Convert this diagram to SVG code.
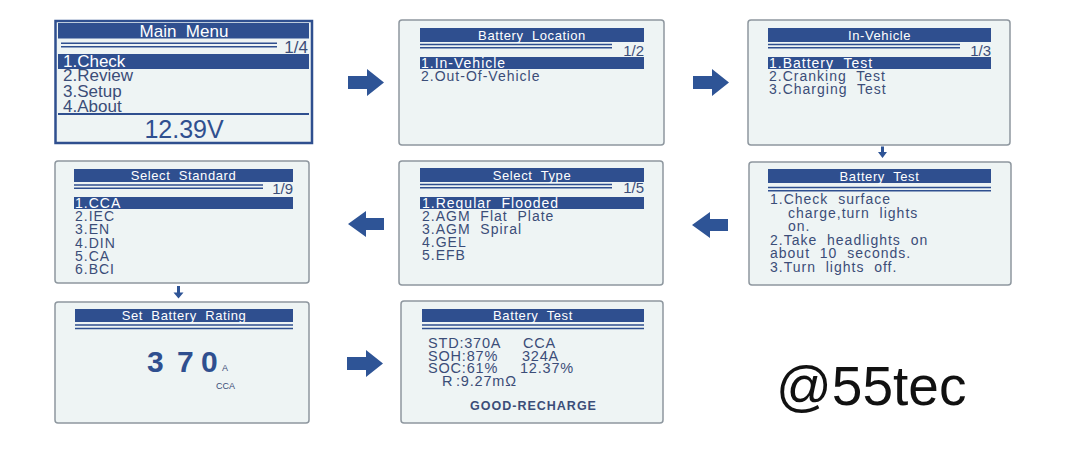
<svg xmlns="http://www.w3.org/2000/svg" width="1079" height="449" viewBox="0 0 1079 449">
<style>
text{font-family:"Liberation Sans",Arial,sans-serif;white-space:pre}
.scr{fill:#eef4f4;stroke:#8e979f;stroke-width:1.5}
.bar{fill:#2f4f8f}
.dl{stroke:#2f4f8f;stroke-width:1.4}
.tt{fill:#ffffff;font-size:13px;letter-spacing:0.6px;text-anchor:middle}
.it{fill:#3b4d78;font-size:14px;letter-spacing:1px}
.hi{fill:#ffffff}
.pg{fill:#3b4d78;font-size:15px;text-anchor:end}
.arr{fill:#2e5496}
</style>
<rect width="1079" height="449" fill="#ffffff"/>

<g id="main-menu">
<rect x="55.5" y="21" width="256.5" height="122" fill="#eef4f4" stroke="#2f4f8f" stroke-width="2.5"/>
<rect class="bar" x="58" y="23" width="251" height="15.5"/>
<text x="184" y="37" fill="#ffffff" font-size="17" text-anchor="middle">Main  Menu</text>
<line class="dl" x1="61" y1="43.3" x2="277" y2="43.3"/>
<line class="dl" x1="61" y1="46.8" x2="277" y2="46.8"/>
<text x="308" y="52.5" fill="#3b4d78" font-size="17" text-anchor="end">1/4</text>
<rect class="bar" x="58" y="54" width="251" height="15"/>
<text x="63" y="66.7" fill="#ffffff" font-size="17">1.Check</text>
<text x="63" y="80.7" fill="#3b4d78" font-size="17">2.Review</text>
<text x="63" y="96.5" fill="#3b4d78" font-size="17">3.Setup</text>
<text x="63" y="111.7" fill="#3b4d78" font-size="17">4.About</text>
<line x1="58" y1="114" x2="309" y2="114" stroke="#2f4f8f" stroke-width="2"/>
<text x="184" y="138" fill="#2f4f8f" font-size="25" text-anchor="middle">12.39V</text>
</g>

<g id="battery-location">
<rect class="scr" x="399" y="20" width="265" height="125" rx="3"/>
<rect class="bar" x="420" y="28" width="224" height="14"/>
<text class="tt" x="532" y="40">Battery  Location</text>
<line class="dl" x1="420" y1="44.5" x2="612" y2="44.5"/>
<line class="dl" x1="420" y1="47.7" x2="612" y2="47.7"/>
<text class="pg" x="644" y="56">1/2</text>
<rect class="bar" x="420" y="57" width="224" height="12"/>
<text class="it hi" x="421" y="67.5">1.In-Vehicle</text>
<text class="it" x="421" y="80.5">2.Out-Of-Vehicle</text>
</g>

<g id="in-vehicle">
<rect class="scr" x="748" y="20" width="262" height="125" rx="3"/>
<rect class="bar" x="768" y="28" width="223" height="14"/>
<text class="tt" x="879.5" y="40">In-Vehicle</text>
<line class="dl" x1="768" y1="44.5" x2="960" y2="44.5"/>
<line class="dl" x1="768" y1="47.7" x2="960" y2="47.7"/>
<text class="pg" x="991" y="56">1/3</text>
<rect class="bar" x="768" y="57" width="223" height="12"/>
<text class="it hi" x="769" y="67.5">1.Battery  Test</text>
<text class="it" x="769" y="80.5">2.Cranking  Test</text>
<text class="it" x="769" y="93.5">3.Charging  Test</text>
</g>

<g id="select-standard">
<rect class="scr" x="55" y="161" width="254" height="122" rx="3"/>
<rect class="bar" x="74" y="169" width="219" height="13"/>
<text class="tt" x="183.5" y="180">Select  Standard</text>
<line class="dl" x1="74" y1="185" x2="263" y2="185"/>
<line class="dl" x1="74" y1="188.3" x2="263" y2="188.3"/>
<text class="pg" x="293" y="194">1/9</text>
<rect class="bar" x="74" y="197" width="219" height="12"/>
<text class="it hi" x="75" y="208">1.CCA</text>
<text class="it" x="75" y="221">2.IEC</text>
<text class="it" x="75" y="234">3.EN</text>
<text class="it" x="75" y="247.5">4.DIN</text>
<text class="it" x="75" y="261">5.CA</text>
<text class="it" x="75" y="274">6.BCI</text>
</g>

<g id="select-type">
<rect class="scr" x="399" y="161" width="264" height="124" rx="3"/>
<rect class="bar" x="420" y="168" width="224" height="14"/>
<text class="tt" x="532" y="180">Select  Type</text>
<line class="dl" x1="420" y1="184.5" x2="612" y2="184.5"/>
<line class="dl" x1="420" y1="187.7" x2="612" y2="187.7"/>
<text class="pg" x="644" y="193">1/5</text>
<rect class="bar" x="420" y="197" width="224" height="12"/>
<text class="it hi" x="422" y="208">1.Regular  Flooded</text>
<text class="it" x="422" y="221">2.AGM  Flat  Plate</text>
<text class="it" x="422" y="234">3.AGM  Spiral</text>
<text class="it" x="422" y="247">4.GEL</text>
<text class="it" x="422" y="260">5.EFB</text>
</g>

<g id="battery-test-steps">
<rect class="scr" x="749" y="162" width="262" height="123" rx="3"/>
<rect class="bar" x="768" y="169" width="223" height="14"/>
<text class="tt" x="879.5" y="181">Battery  Test</text>
<line class="dl" x1="768" y1="187.5" x2="991" y2="187.5"/>
<line class="dl" x1="768" y1="190.7" x2="991" y2="190.7"/>
<text class="it" x="770" y="204">1.Check  surface</text>
<text class="it" x="788" y="218">charge,turn  lights</text>
<text class="it" x="788" y="231">on.</text>
<text class="it" x="770" y="245">2.Take  headlights  on</text>
<text class="it" x="770" y="258">about  10  seconds.</text>
<text class="it" x="770" y="272">3.Turn  lights  off.</text>
</g>

<g id="set-battery-rating">
<rect class="scr" x="55" y="302" width="254" height="121" rx="3"/>
<rect class="bar" x="75" y="309" width="218" height="13"/>
<text class="tt" x="184" y="320">Set  Battery  Rating</text>
<line class="dl" x1="75" y1="325" x2="293" y2="325"/>
<line class="dl" x1="75" y1="328.5" x2="293" y2="328.5"/>
<text x="147" y="372" fill="#2f4f8f" font-size="30" font-weight="bold">3</text>
<text x="177" y="372" fill="#2f4f8f" font-size="30" font-weight="bold">7</text>
<text x="201" y="372" fill="#2f4f8f" font-size="30" font-weight="bold">0</text>
<text x="222" y="371" fill="#3b4d78" font-size="9">A</text>
<text x="216" y="389" fill="#3b4d78" font-size="9">CCA</text>
</g>

<g id="battery-test-result">
<rect class="scr" x="401" y="301" width="262" height="122" rx="3"/>
<rect class="bar" x="422" y="309" width="222" height="13"/>
<text class="tt" x="533" y="320">Battery  Test</text>
<line class="dl" x1="422" y1="325" x2="644" y2="325"/>
<line class="dl" x1="422" y1="328.5" x2="644" y2="328.5"/>
<g fill="#3b4d78" font-size="14.5" letter-spacing="0.8">
<text x="428" y="348">STD:370A</text>
<text x="523" y="348">CCA</text>
<text x="428" y="360.5">SOH:87%</text>
<text x="522" y="360.5">324A</text>
<text x="428" y="373">SOC:61%</text>
<text x="520" y="373">12.37%</text>
<text x="442" y="385.5">R</text>
<text x="456" y="385.5">:9.27mΩ</text>
</g>
<text x="533.5" y="410" fill="#3b4d78" font-size="12.5" font-weight="bold" letter-spacing="1" text-anchor="middle">GOOD-RECHARGE</text>
</g>

<g id="connectors">
<polygon class="arr" points="348,76 367,76 367,69 384,82.5 367,96 367,89 348,89"/>
<polygon class="arr" points="693,76 712,76 712,69 729,82.5 712,96 712,89 693,89"/>
<polygon class="arr" points="881,146.5 884,146.5 884,152 887,152 882.5,158 878,152 881,152"/>
<polygon class="arr" points="348,224 366,211 366,218 384,218 384,230 366,230 366,237"/>
<polygon class="arr" points="692,225 710,212 710,219 728,219 728,231 710,231 710,238"/>
<polygon class="arr" points="177,286 180,286 180,292.5 183.5,292.5 178.5,298.5 173.5,292.5 177,292.5"/>
<polygon class="arr" points="347,357 366,357 366,350 383,363.5 366,377 366,370 347,370"/>
</g>

<g id="watermark">
<text x="776" y="405" fill="#111111" font-family="Roboto, sans-serif" font-size="55">@55tec</text>
</g>
</svg>
